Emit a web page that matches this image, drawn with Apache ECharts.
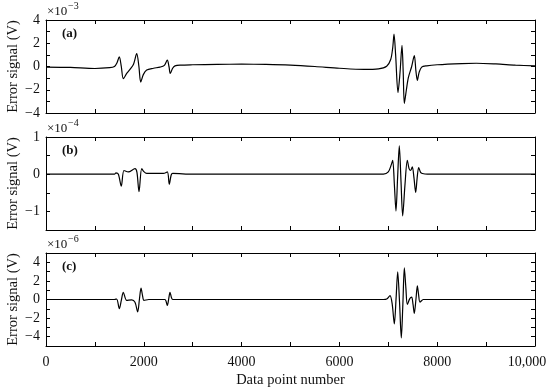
<!DOCTYPE html>
<html>
<head>
<meta charset="utf-8">
<script src="https://cdn.jsdelivr.net/npm/echarts@6/dist/echarts.min.js"></script>
<style>
  html, body { margin: 0; padding: 0; background: #fff; }
  #chart { width: 550px; height: 390px; }
</style>
</head>
<body>
<div id="chart"></div>
<script>
// --- data ---
// x = data point number, y in units of the panel's exponent
const aX = [0, 500, 1000, 1300, 1400, 1450, 1499, 1540, 1581, 1650, 1718, 1790, 1855, 1900, 1937, 1990, 2059, 2200, 2331, 2420, 2481, 2515, 2542, 2590, 2638, 2750, 3000, 3500, 4000, 4500, 5000, 5500, 6000, 6500, 6800, 6967, 7049, 7090, 7117, 7150, 7198, 7240, 7280, 7305, 7328, 7370, 7410, 7478, 7532, 7565, 7594, 7630, 7682, 7785, 8000, 8500, 8800, 9200, 9600, 10000];
const aY = [-0.05, -0.08, -0.17, -0.1, 0.0, 0.3, 0.83, 0.0, -1.05, -0.6, -0.25, 0.2, 1.1, 0.0, -1.34, -0.7, -0.3, -0.15, -0.05, 0.1, 0.55, 0.0, -0.6, -0.15, 0.05, 0.12, 0.15, 0.18, 0.2, 0.18, 0.12, 0.0, -0.15, -0.25, -0.2, 0.03, 0.6, 1.6, 2.78, 1.0, -2.24, -0.5, 1.81, -0.5, -3.17, -2.0, -0.96, 0.0, 0.94, -0.4, -1.19, -0.5, -0.05, 0.06, 0.15, 0.25, 0.28, 0.22, 0.12, 0.05];

const bX = [0, 1400, 1431, 1480, 1540, 1595, 1684, 1820, 1860, 1902, 1957, 2000, 2059, 2400, 2481, 2521, 2560, 2591, 3000, 6900, 7000, 7060, 7090, 7125, 7157, 7190, 7225, 7260, 7294, 7340, 7389, 7425, 7458, 7491, 7525, 7560, 7590, 7621, 7660, 7695, 7800, 10000];
const bY = [0, 0, 0.035, 0.0, -0.32, 0.1, 0.06, 0.15, 0.05, -0.47, 0.15, 0.07, 0.02, 0.02, 0.06, -0.27, -0.02, 0.02, 0, 0, 0.06, 0.25, 0.37, -0.3, -0.99, -0.1, 0.76, -0.2, -1.12, -0.3, 0.37, 0.15, 0.1, 0.2, -0.1, -0.49, -0.1, 0.18, 0.05, 0.02, 0, 0];

const cX = [0, 1400, 1446, 1499, 1540, 1581, 1650, 1753, 1820, 1875, 1910, 1943, 1975, 2004, 2100, 2430, 2481, 2510, 2536, 2565, 2591, 3000, 6900, 6967, 7035, 7080, 7123, 7160, 7192, 7230, 7266, 7298, 7328, 7360, 7389, 7440, 7478, 7505, 7532, 7565, 7594, 7620, 7648, 7716, 10000];
const cY = [0, 0, 0.05, -0.98, -0.1, 0.77, -0.1, -0.03, -0.3, -1.33, 0.0, 1.23, 0.4, -0.1, 0, 0, -0.63, 0.1, 0.77, 0.2, 0, 0, 0, 0.05, 0.42, -0.5, -2.63, 0.2, 2.98, -0.3, -4.14, -0.5, 3.4, 1.2, -0.53, 0.1, 0.25, -0.5, -1.5, 0.0, 1.47, 0.5, -0.28, 0, 0];

const xTickValues = [0, 2000, 4000, 6000, 8000, 10000];
const xTickLabels = ['0', '2000', '4000', '6000', '8000', '10,000'];
const aTickValues = [-4, -2, 0, 2, 4];
const bTickValues = [-1, 0, 1];
const cTickValues = [-4, -2, 0, 2, 4];
const panelNames = ['(a)', '(b)', '(c)'];
const exponents = ['\u22123', '\u22124', '\u22126'];

const FONT = '"Liberation Serif", "DejaVu Serif", serif';
const tops = [20, 137, 253];
const H = 93;

function pairs(xs, ys) {
  return xs.map((x, i) => [x, ys[i]]);
}
function minus(v) {
  return String(v).replace('-', '\u2212');
}

const panels = [
  { x: aX, y: aY, min: -4, max: 4, interval: 1, ticks: aTickValues },
  { x: bX, y: bY, min: -1.5, max: 1, interval: 0.5, ticks: bTickValues },
  { x: cX, y: cY, min: -5, max: 5, interval: 1, ticks: cTickValues },
];

const grid = [], xAxis = [], yAxis = [], series = [], graphic = [];
const lineStyle = { color: '#000', width: 1 };
const tickStyle = { show: true, inside: true, length: 4, lineStyle: { color: '#000', width: 1 } };

panels.forEach((p, i) => {
  grid.push({ left: 46, right: 15, top: tops[i], height: H, outerBoundsMode: 'none', containLabel: false });
  const last = i === 2;
  // bottom x axis
  xAxis.push({
    type: 'value', gridIndex: i, min: 0, max: 10000, interval: 1000,
    axisLine: { show: true, onZero: false, lineStyle },
    axisTick: tickStyle,
    splitLine: { show: false },
    axisLabel: {
      show: last, color: '#111', fontFamily: FONT, fontSize: 14, margin: 9,
      formatter: (v) => {
        const k = xTickValues.indexOf(v);
        if (k < 0) return '';
        return k === xTickValues.length - 1 ? '{r|' + xTickLabels[k] + '}' : xTickLabels[k];
      },
      rich: { r: { fontFamily: FONT, fontSize: 14, color: '#111', padding: [0, 16, 0, 0] } },
    },
    name: last ? 'Data point number' : '',
    nameLocation: 'middle', nameGap: 27, nameMoveOverlap: false,
    nameTextStyle: { fontFamily: FONT, fontSize: 14.5, color: '#111' },
  });
  // top mirror
  xAxis.push({
    type: 'value', gridIndex: i, position: 'top', min: 0, max: 10000, interval: 1000,
    axisLine: { show: true, onZero: false, lineStyle },
    axisTick: tickStyle, axisLabel: { show: false }, splitLine: { show: false },
  });
  yAxis.push({
    type: 'value', gridIndex: i, min: p.min, max: p.max, interval: p.interval,
    axisLine: { show: true, onZero: false, lineStyle },
    axisTick: tickStyle, splitLine: { show: false },
    axisLabel: {
      color: '#111', fontFamily: FONT, fontSize: 14, margin: 6,
      formatter: (v) => (p.ticks.indexOf(v) >= 0 ? minus(v) : ''),
    },
    name: 'Error signal (V)', nameLocation: 'middle', nameGap: 25, nameMoveOverlap: false,
    nameTextStyle: { fontFamily: FONT, fontSize: 14.5, color: '#111' },
  });
  yAxis.push({
    type: 'value', gridIndex: i, position: 'right', min: p.min, max: p.max, interval: p.interval,
    axisLine: { show: true, onZero: false, lineStyle },
    axisTick: tickStyle, axisLabel: { show: false }, splitLine: { show: false },
  });
  series.push({
    type: 'line', xAxisIndex: i * 2, yAxisIndex: i * 2,
    data: pairs(p.x, p.y), showSymbol: false, smooth: 0.3,
    lineStyle: { color: '#000', width: 1.2 }, silent: true,
  });
  graphic.push({
    type: 'text', left: 47, top: tops[i] - 15,
    style: { text: '\u00d710', font: '13px ' + FONT, fill: '#111' },
  });
  graphic.push({
    type: 'text', left: 68, top: tops[i] - 19,
    style: { text: exponents[i], font: '10px ' + FONT, fill: '#111' },
  });
  graphic.push({
    type: 'text', left: 62, top: tops[i] + 7,
    style: { text: panelNames[i], font: 'bold 13px ' + FONT, fill: '#111' },
  });
});

const chart = echarts.init(document.getElementById('chart'));
chart.setOption({
  animation: false,
  backgroundColor: '#fff',
  grid, xAxis, yAxis, series, graphic,
});
</script>
</body>
</html>
